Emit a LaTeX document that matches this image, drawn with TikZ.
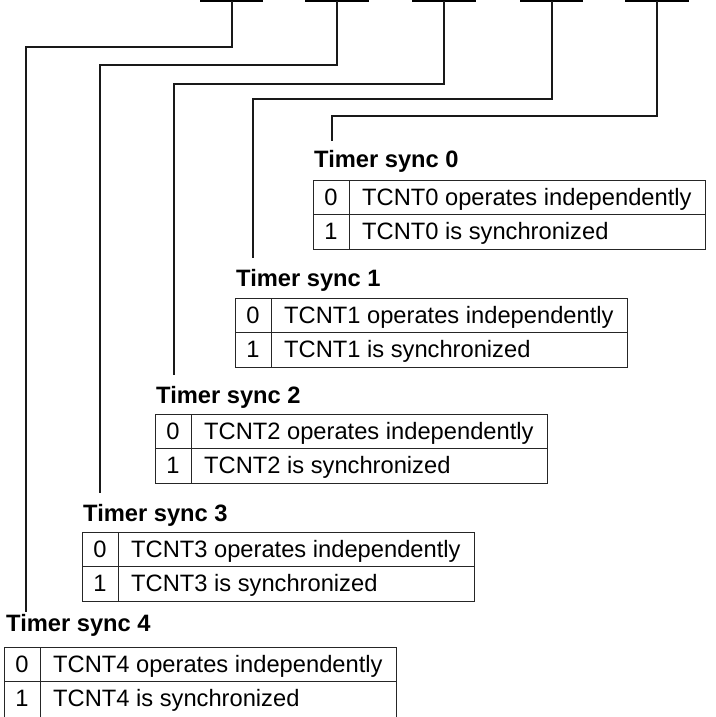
\documentclass[tikz,border=0pt]{standalone}
\usepackage{fontspec}
\setmainfont{Liberation Sans}
\begin{document}
\begin{tikzpicture}[x=1pt,y=-1pt,
  lead/.style={draw=black!90,line width=1.2pt},
  bar/.style={draw=black,line width=1.5pt},
  tbl/.style={draw=black!85,line width=1pt},
  lbl/.style={inner sep=0pt,anchor=base west,font=\fontsize{23.7}{28}\selectfont\bfseries},
  cell/.style={inner sep=0pt,anchor=base west,font=\fontsize{23.7}{28}\selectfont},
  dig/.style={inner sep=0pt,anchor=base,font=\fontsize{23.7}{28}\selectfont}]
\useasboundingbox (0,0) rectangle (715,717);
% index / table left / table top / table height / label baseline / label x / vertical x / horizontal y / left x / end y / bar left / bar right
\foreach \i/\L/\T/\H/\lb/\lx/\vx/\hy/\kx/\ey/\bl/\br in {
  0/313/180/69/167/314/657/116/332/141/625/689,
  1/235/298/69/286/236/552/99/253/258/520/583,
  2/155/414/69/403/156/444/84/174/375/412/476,
  3/82/532/69/521/83/337/65/100/493/305/369,
  4/4/647/76/631/6/232/47/26/612/200/263}{
  % top bar and leader line
  \coordinate (bl\i) at (\bl,1);
  \coordinate (br\i) at (\br,1);
  \coordinate (v\i) at (\vx,1);
  \coordinate (k\i) at (\kx,\hy);
  \coordinate (e\i) at (\kx,\ey);
  \draw[bar] (bl\i) -- (br\i);
  \draw[lead] (v\i) |- (k\i) -- (e\i);
  % label
  \node[lbl] (lab\i) at (\lx,\lb) {Timer sync \i};
  % table
  \coordinate (tl\i) at (\L,\T);
  \coordinate (tr\i) at (\L+392,\T+\H);
  \draw[tbl] (tl\i) rectangle (tr\i);
  \draw[tbl] (\L,\T+34.5) -- (\L+392,\T+34.5);
  \draw[tbl] (\L+36,\T) -- (\L+36,\T+\H);
  \node[dig] (za\i) at (\L+18,\T+25) {0};
  \node[dig] (zb\i) at (\L+18,\T+59.5) {1};
  \node[cell] (ta\i) at (\L+49,\T+25) {TCNT\i\ operates independently};
  \node[cell] (tb\i) at (\L+49,\T+59.5) {TCNT\i\ is synchronized};
}
\end{tikzpicture}
\end{document}
